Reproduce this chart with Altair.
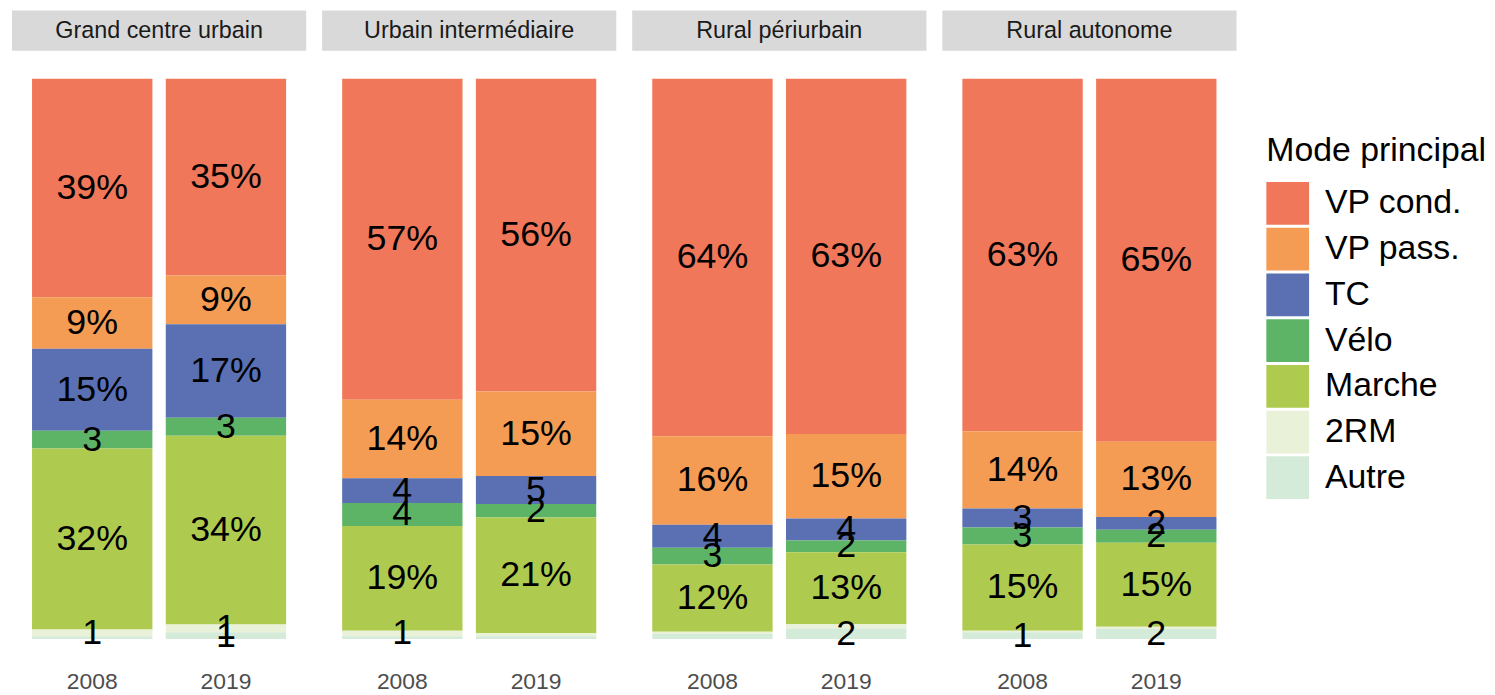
import altair as alt
import pandas as pd

zones = ["Grand centre urbain", "Urbain intermédiaire", "Rural périurbain", "Rural autonome"]
annees = ["2008", "2019"]
modes = ["VP cond.", "VP pass.", "TC", "Vélo", "Marche", "2RM", "Autre"]
couleurs = ["#F07759", "#F49C54", "#5A70B2", "#5EB466", "#AFCB4F", "#EAF1D9", "#D5EBD9"]

# order of bars: GCU 2008, GCU 2019, UI 2008, UI 2019, RP 2008, RP 2019, RA 2008, RA 2019
vp_cond = [39.0, 35.1, 57.3, 55.8, 63.8, 63.4, 62.9, 64.8]
vp_pass = [9.2, 8.7, 14.0, 15.1, 15.8, 15.1, 13.8, 13.4]
tc = [14.6, 16.7, 4.4, 5.0, 4.1, 3.9, 3.4, 2.3]
velo = [3.2, 3.2, 4.1, 2.4, 3.0, 2.1, 3.0, 2.3]
marche = [32.3, 33.7, 18.7, 20.6, 12.0, 12.8, 15.4, 15.0]
deux_rm = [1.2, 1.4, 1.0, 0.6, 0.4, 0.8, 0.3, 0.4]
autre = [0.5, 1.2, 0.5, 0.5, 0.9, 1.9, 1.2, 1.8]

series = [vp_cond, vp_pass, tc, velo, marche, deux_rm, autre]
rows = []
for mi, (m, vals) in enumerate(zip(modes, series)):
    for i, v in enumerate(vals):
        rows.append({
            "zone": zones[i // 2],
            "annee": annees[i % 2],
            "mode": m,
            "ordre": len(modes) - mi,
            "valeur": v,
        })
df = pd.DataFrame(rows)

W = 296
H = 620
FONT = "Liberation Sans"

x_enc = alt.X("annee:N", sort=annees, title=None,
              scale=alt.Scale(paddingInner=0.1, paddingOuter=0.15),
              axis=alt.Axis(labelAngle=0, ticks=False, domain=False, grid=False,
                            labelFontSize=23, labelColor="#4d4d4d", labelPadding=4,
                            labelFont=FONT))
y_scale = alt.Scale(domain=[-5, 105], nice=False, zero=False)

bars = alt.Chart().mark_bar().encode(
    x=x_enc,
    y=alt.Y("y0:Q", scale=y_scale, axis=None),
    y2="y1:Q",
    color=alt.Color("mode:N", sort=modes,
                    scale=alt.Scale(domain=modes, range=couleurs),
                    legend=alt.Legend(title="Mode principal", orient="none",
                                      legendX=1262, legendY=84,
                                      symbolType="square", symbolSize=1849,
                                      symbolStrokeWidth=0,
                                      titleFontSize=34, labelFontSize=34,
                                      titleFont=FONT, labelFont=FONT,
                                      titleFontWeight="normal", titleLimit=400,
                                      labelLimit=300,
                                      titleColor="#000000", labelColor="#000000",
                                      rowPadding=3, titlePadding=14, labelOffset=16)),
)

texts = alt.Chart().mark_text(fontSize=36, font=FONT, color="#000000",
                              baseline="middle", align="center").encode(
    x=alt.X("annee:N", sort=annees),
    y=alt.Y("mid:Q", scale=y_scale, axis=None),
    text="lab:N",
)

strip = alt.Chart().transform_filter(
    (alt.datum.annee == "2008") & (alt.datum.mode == "VP cond.")
).mark_rect(color="#d9d9d9").encode(
    x=alt.value(0), x2=alt.value(W), y=alt.value(-40.5), y2=alt.value(0)
)

strip_txt = alt.Chart().transform_filter(
    (alt.datum.annee == "2008") & (alt.datum.mode == "VP cond.")
).mark_text(fontSize=23.5, font=FONT, color="#1a1a1a", baseline="middle", align="center").encode(
    x=alt.value(W / 2), y=alt.value(-20), text="zone:N"
)

layer = alt.layer(bars, texts, strip, strip_txt, data=df).transform_stack(
    stack="valeur", groupby=["zone", "annee"], as_=["y0", "y1"],
    sort=[alt.SortField("ordre", order="ascending")]
).transform_calculate(
    mid="(datum.y0 + datum.y1) / 2",
    lab="datum.valeur < 1 ? '' : (round(datum.valeur) >= 6 ? round(datum.valeur) + '%' : '' + round(datum.valeur))",
).properties(width=W, height=H)

chart = layer.facet(
    column=alt.Facet("zone:N", sort=zones, header=alt.Header(title=None, labels=False, labelPadding=0, titlePadding=0)),
    spacing=16,
).properties(
    padding={"left": 4, "top": 0, "right": 0, "bottom": 0}
).configure(font=FONT).configure_view(stroke=None)

chart.save("out.html", embed_options={"renderer": "svg", "actions": False})
